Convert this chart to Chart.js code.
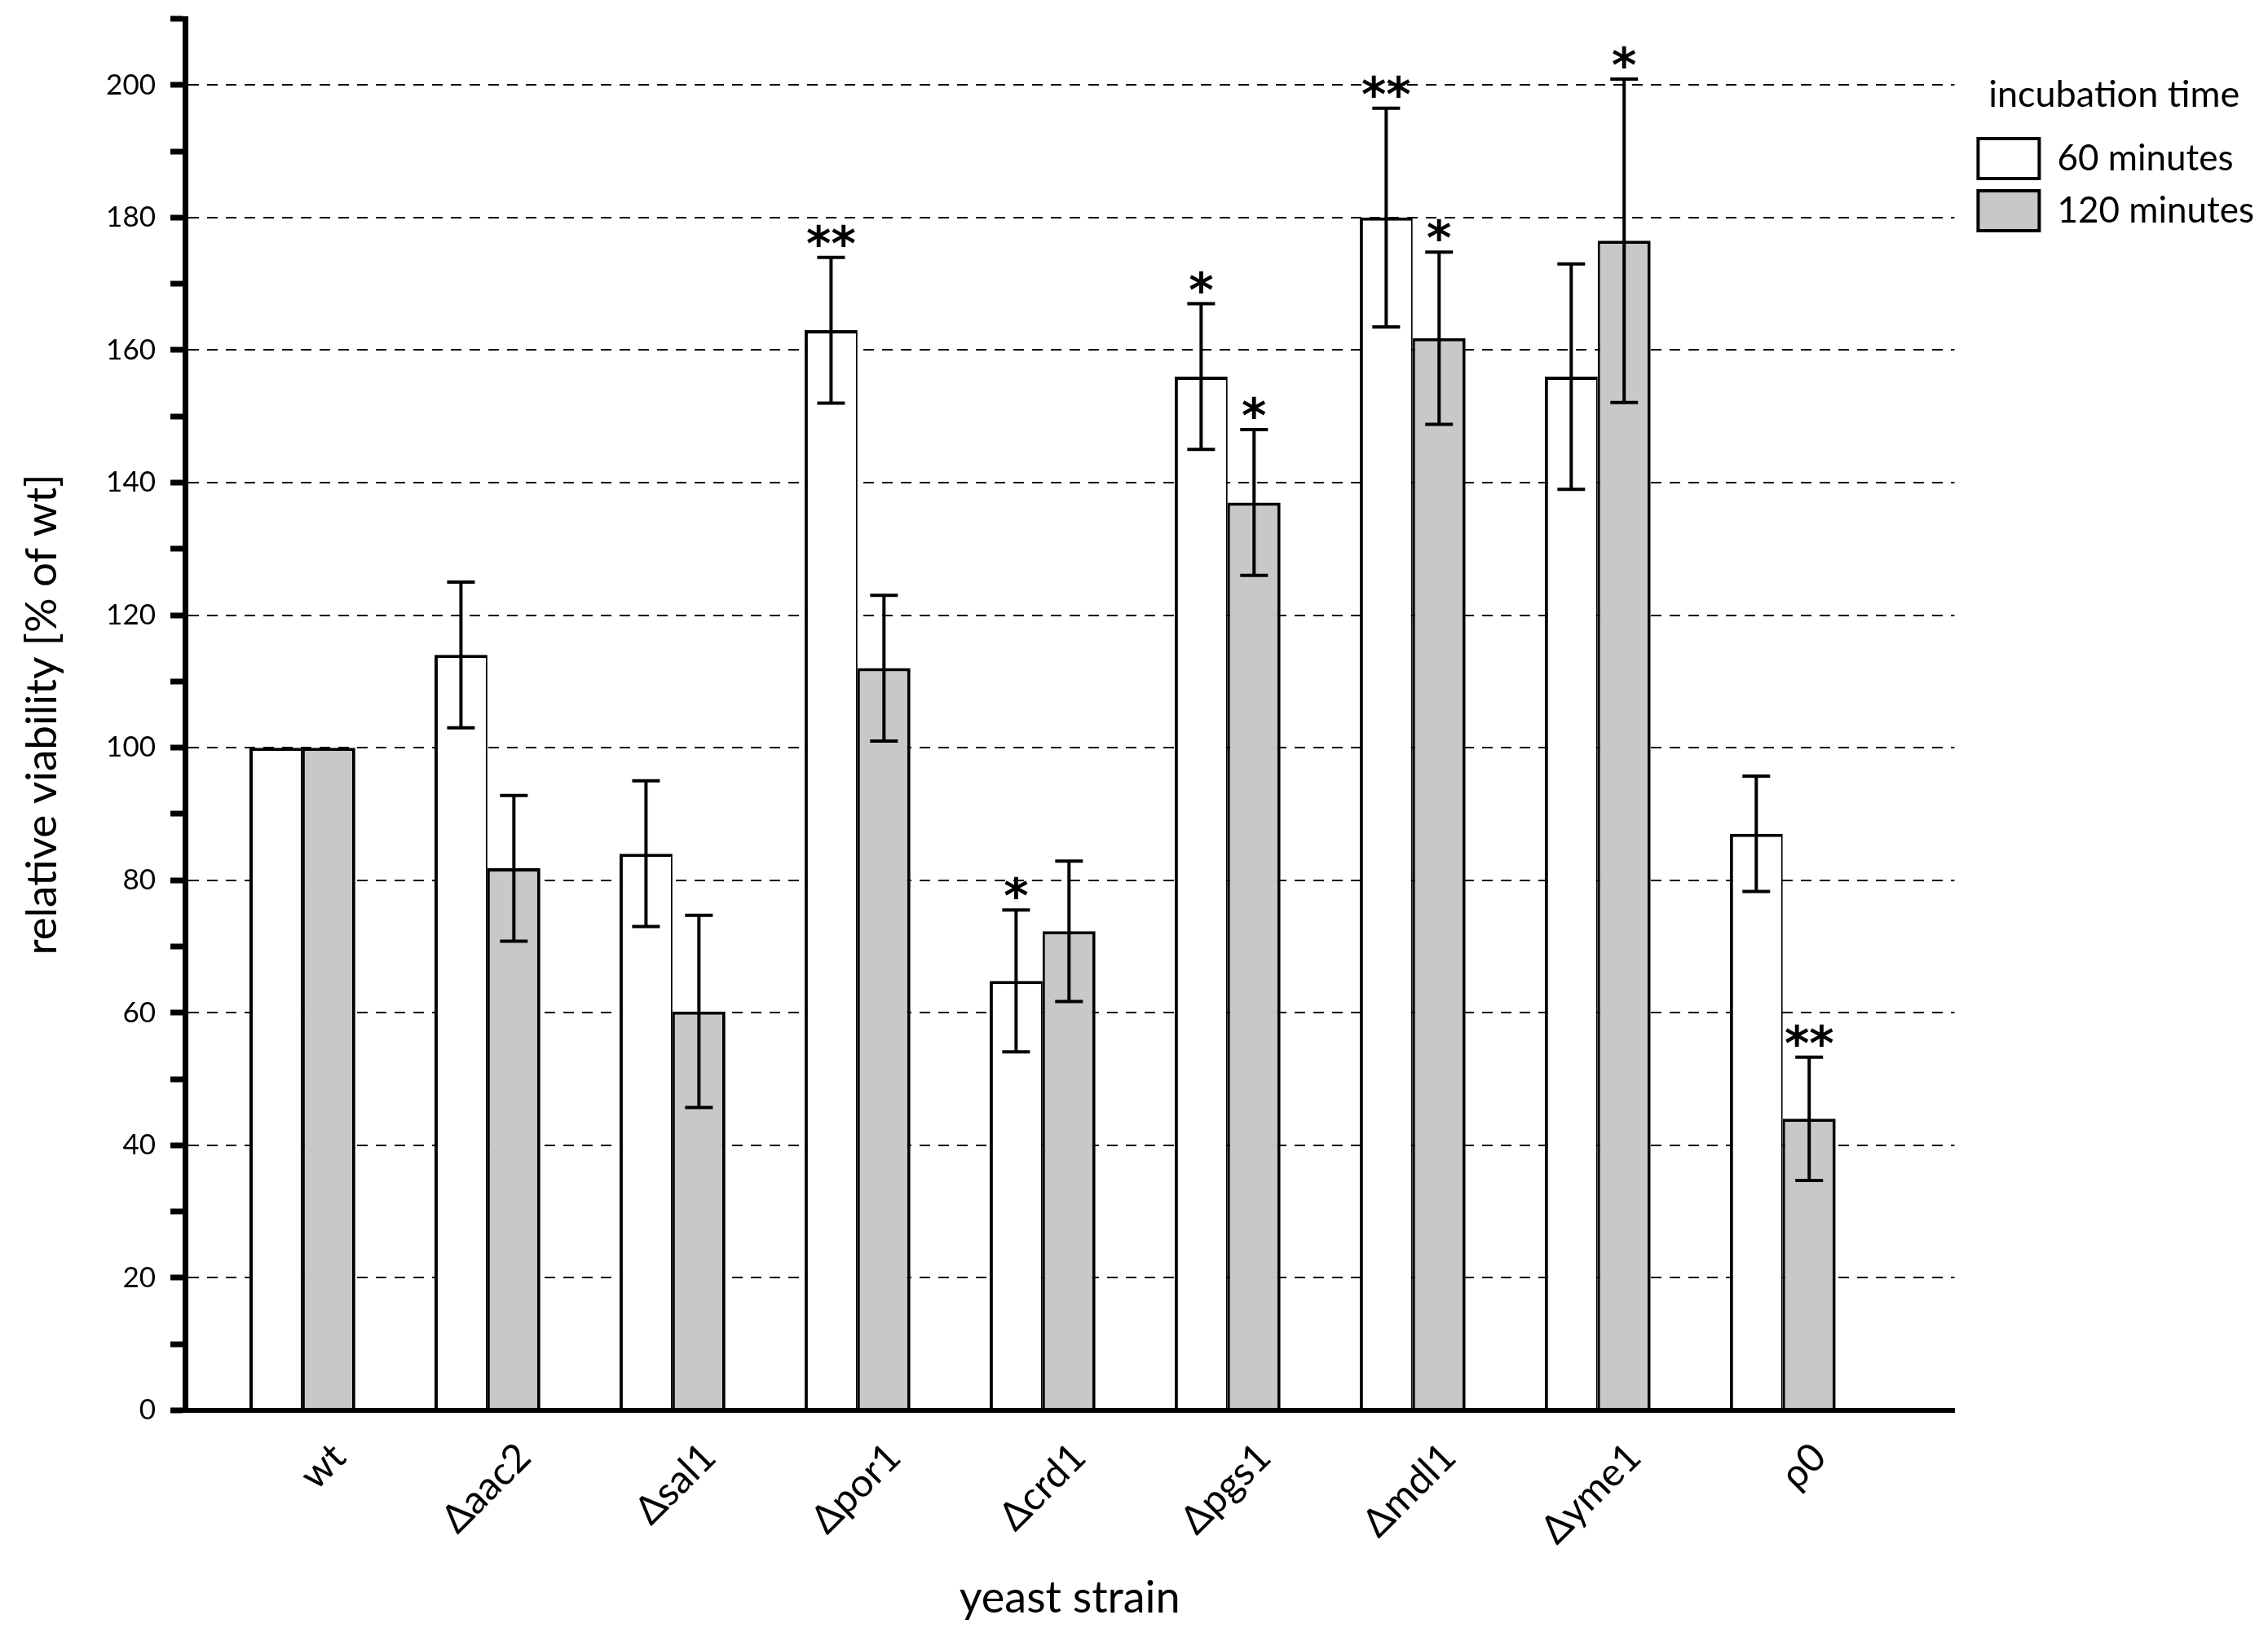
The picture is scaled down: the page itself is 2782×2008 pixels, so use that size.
<!DOCTYPE html>
<html>
<head>
<meta charset="utf-8">
<script src="https://cdn.jsdelivr.net/npm/chart.js@4/dist/chart.umd.min.js"></script>
<style>
    html, body { margin: 0; padding: 0; background: #fff; }
    #wrap { width: 2782px; height: 2008px; }
</style>
</head>
<body>
<div id="wrap"><canvas id="viability-chart" width="2782" height="2008"></canvas></div>
<script>
// values (relative viability, % of wt)
const strains = ['wt', 'Δaac2', 'Δsal1', 'Δpor1', 'Δcrd1', 'Δpgs1', 'Δmdl1', 'Δyme1', 'ρ0'];
const mean_60 = [100, 114, 84, 163, 64.8, 156, 180, 156, 87];
const err_60 = [0, 11, 11, 11, 10.7, 11, 16.5, 17, 8.7];
const sig_60 = ['', '', '', '**', '*', '*', '**', '', ''];
const mean_120 = [100, 81.8, 60.2, 112, 72.3, 137, 161.8, 176.5, 44];
const err_120 = [0, 11, 14.5, 11, 10.6, 11, 13, 24.4, 9.3];
const sig_120 = ['', '', '', '', '', '*', '*', '*', '**'];
const y_ticks = [0, 20, 40, 60, 80, 100, 120, 140, 160, 180, 200];

Chart.defaults.font.family = 'Lato, "Open Sans", sans-serif';
Chart.defaults.color = '#000';

// error bars + significance stars, drawn on top of the bars
const error_bars = {
    id: 'error_bars',
    afterDatasetsDraw(chart) {
        const ctx = chart.ctx;
        const y = chart.scales.y;
        chart.data.datasets.forEach((ds, di) => {
            const meta = chart.getDatasetMeta(di);
            meta.data.forEach((bar, i) => {
                const err = ds.errors[i];
                if (!err) return;
                const v = ds.data[i].y;
                const top = y.getPixelForValue(v + err);
                const bottom = y.getPixelForValue(v - err);
                ctx.save();
                ctx.strokeStyle = '#000';
                ctx.lineWidth = 4;
                ctx.beginPath();
                ctx.moveTo(bar.x, top);
                ctx.lineTo(bar.x, bottom);
                ctx.moveTo(bar.x - 17, top);
                ctx.lineTo(bar.x + 17, top);
                ctx.moveTo(bar.x - 17, bottom);
                ctx.lineTo(bar.x + 17, bottom);
                ctx.stroke();
                if (ds.stars[i]) {
                    ctx.fillStyle = '#000';
                    ctx.font = 'bold 58px "DejaVu Sans"';
                    ctx.textAlign = 'center';
                    ctx.textBaseline = 'alphabetic';
                    ctx.fillText(ds.stars[i], bar.x, top + 3);
                }
                ctx.restore();
            });
        });
    }
};

// legend sits a little right of the plot edge in the original
const legend_shift = {
    id: 'legend_shift',
    afterLayout(chart) {
        chart.legend.left += 14;
        chart.legend.right += 14;
    }
};

const graph_config = {
    type: 'bar',
    data: {
        datasets: [{
            label: '60 minutes',
            data: strains.map((s, i) => ({x: i, y: mean_60[i]})),
            errors: err_60,
            stars: sig_60,
            backgroundColor: '#ffffff',
            borderColor: '#000',
            borderWidth: {top: 4, left: 4, right: 2, bottom: 0},
            borderSkipped: false
        }, {
            label: '120 minutes',
            data: strains.map((s, i) => ({x: i, y: mean_120[i]})),
            errors: err_120,
            stars: sig_120,
            backgroundColor: '#c8c8c8',
            borderColor: '#000',
            borderWidth: {top: 4, left: 3, right: 4, bottom: 0},
            borderSkipped: false
        }]
    },
    options: {
        responsive: false,
        animation: false,
        devicePixelRatio: 1,
        categoryPercentage: 0.572,
        barPercentage: 1,
        layout: {padding: {top: 23, left: 0, right: 21, bottom: 11}},
        plugins: {
            tooltip: {enabled: false},
            legend: {
                position: 'right',
                align: 'start',
                title: {
                    display: true,
                    text: 'incubation time',
                    position: 'center',
                    font: {size: 45},
                    padding: {top: 71, bottom: 7}
                },
                labels: {
                    boxWidth: 75,
                    boxHeight: 49,
                    padding: 15,
                    font: {size: 44},
                    generateLabels: chart => Chart.defaults.plugins.legend.labels.generateLabels(chart)
                        .map(item => Object.assign(item, {lineWidth: 4}))
                }
            }
        },
        scales: {
            x: {
                type: 'linear',
                min: -0.634,
                max: 8.928,
                offset: false,
                afterFit: scale => { scale.height = 267; },
                grid: {display: false, drawTicks: false},
                border: {display: true, color: '#000', width: 6, z: 1},
                ticks: {
                    stepSize: 1,
                    includeBounds: false,
                    autoSkip: false,
                    minRotation: 45,
                    maxRotation: 45,
                    padding: 29,
                    labelOffset: 45,
                    font: {size: 48},
                    callback: v => strains[v] ?? ''
                },
                title: {display: true, text: 'yeast strain', font: {size: 54}}
            },
            y: {
                min: 0,
                max: 210,
                afterFit: scale => {
                    scale.width = 227;
                    scale.paddingTop = 0;
                    scale.paddingBottom = 0;
                },
                grid: {
                    color: c => (y_ticks.includes(c.tick.value) && c.tick.value > 0) ? '#000' : 'rgba(0,0,0,0)',
                    lineWidth: 2,
                    tickColor: '#000',
                    tickWidth: 7,
                    tickLength: 18
                },
                border: {display: true, color: '#000', width: 7, dash: [13, 10], z: 1},
                ticks: {
                    stepSize: 10,
                    padding: 18,
                    font: {size: 35},
                    callback: v => y_ticks.includes(v) ? v : ''
                },
                title: {
                    display: true,
                    text: 'relative viability [% of wt]',
                    font: {size: 53},
                    padding: {top: 20, bottom: 4}
                }
            }
        }
    },
    plugins: [error_bars, legend_shift]
};

const ctx = document.getElementById('viability-chart').getContext('2d');
const viability_chart = new Chart(ctx, graph_config);
</script>
</body>
</html>
